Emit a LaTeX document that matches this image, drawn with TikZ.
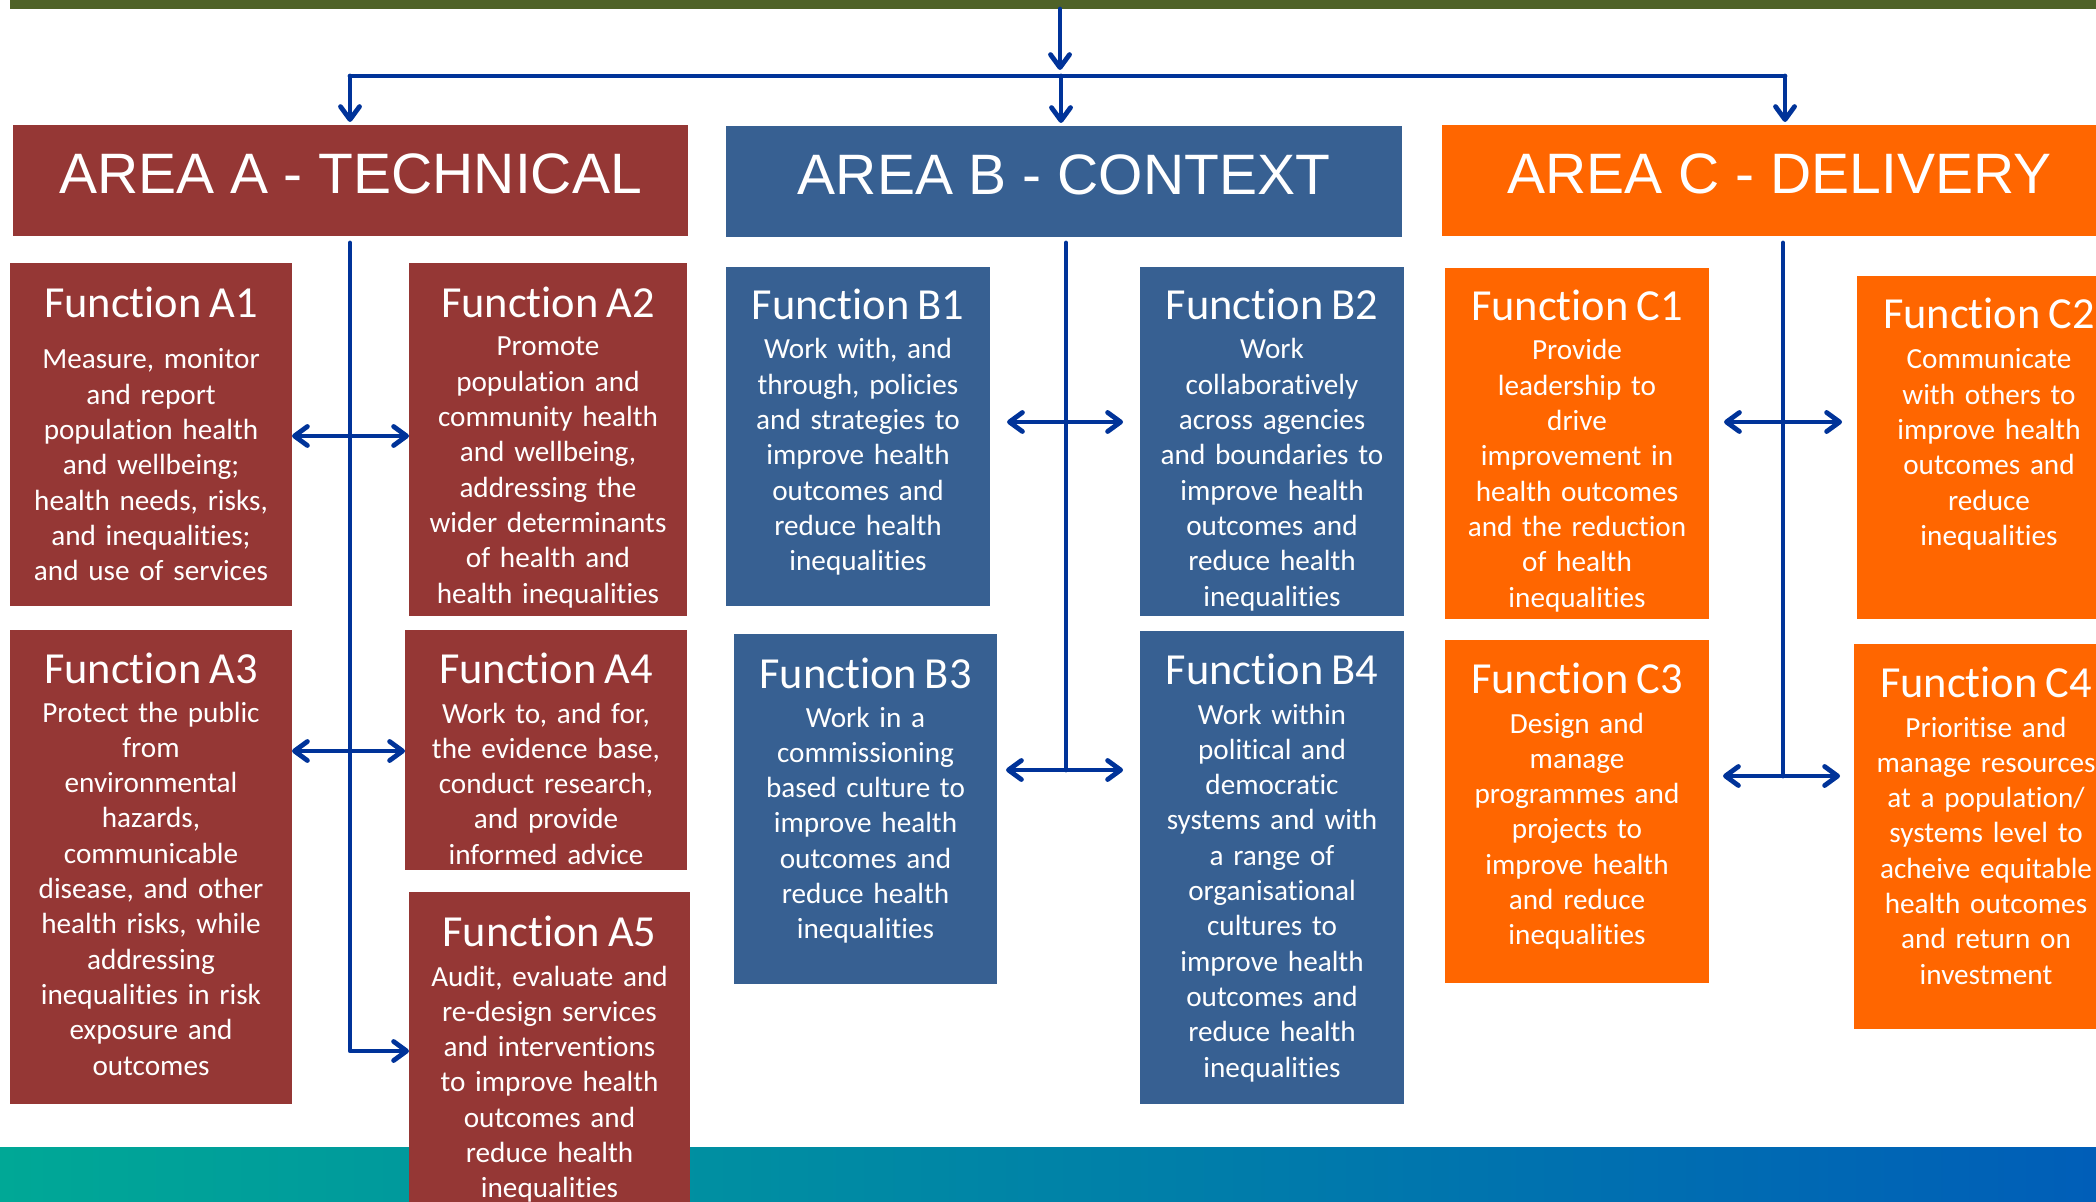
\documentclass[tikz,border=0pt]{standalone}
\usepackage{fontspec}
\setmainfont{Carlito}[Ligatures=NoCommon,WordSpace=0.8]
\newfontfamily\areafont{Liberation Sans}
\usetikzlibrary{arrows.meta,fit}
\definecolor{cA}{RGB}{149,55,53}
\definecolor{cB}{RGB}{55,96,146}
\definecolor{cC}{RGB}{255,102,0}
\definecolor{cG}{RGB}{79,98,40}
\definecolor{cL}{RGB}{0,51,153}
\definecolor{gL}{RGB}{0,168,150}
\definecolor{gR}{RGB}{0,94,184}
\tikzset{
  box/.style={inner sep=0pt, outer sep=0pt, draw=none},
  ttl/.style={text=white, anchor=base, inner sep=0pt, font=\fontsize{22.2}{26}\selectfont},
  bodytxt/.style={text=white, anchor=base, inner sep=0pt, align=center, text width=150pt, font=\fontsize{14.6}{17.65}\selectfont},
  areatxt/.style={text=white, anchor=base, inner sep=0pt, font=\areafont\fontsize{28.5}{34}\selectfont},
  conn/.style={draw=cL, line width=2.4pt, line cap=round, line join=round, >={Straight Barb[length=6.5pt,width=9.5pt,round]}},
}
% name, colour, corner1, corner2, title baseline, body baseline, body
\newcommand\FuncBox[7]{%
  \node[box,fill=#2,fit={(#3)(#4)}] (#1) {};
  \node[ttl] (#1t) at (#1.north |- 0,#5) {Function #1};
  \node[bodytxt] (#1b) at (#1.north |- 0,#6) {#7};
}
\begin{document}
\begin{tikzpicture}[x=0.5pt,y=-0.5pt]
\useasboundingbox (0,0) rectangle (2096,1202);
% bottom gradient band
\shade[left color=gL,right color=gR] (0,1147) rectangle (2096,1202);
% top bar
\node[box,fill=cG,fit={(10,0)(2096,9)}] (topbar) {};
% area headers
\node[box,fill=cA,fit={(13,125)(688,236)}] (areaA) {};
\node[box,fill=cB,fit={(726,126)(1402,237)}] (areaB) {};
\node[box,fill=cC,fit={(1442,125)(2117,236)}] (areaC) {};
\node[areatxt] (areaAt) at (areaA.north |- 0,194) {AREA A - TECHNICAL};
\node[areatxt] (areaBt) at (areaB.north |- 0,195) {AREA B - CONTEXT};
\node[areatxt] (areaCt) at (areaC.north |- 0,194) {AREA C - DELIVERY};

% function boxes
\FuncBox{A1}{cA}{10,263}{292,606}{318}{369}{Measure, monitor\\and report\\population health\\and wellbeing;\\health needs, risks,\\and inequalities;\\and use of services}
\FuncBox{A2}{cA}{409,263}{687,616}{318}{356}{Promote\\population and\\community health\\and wellbeing,\\addressing the\\wider determinants\\of health and\\health inequalities}
\FuncBox{A3}{cA}{10,630}{292,1104}{683}{722}{Protect the public\\from\\environmental\\hazards,\\communicable\\disease, and other\\health risks, while\\addressing\\inequalities in risk\\exposure and\\outcomes}
\FuncBox{A4}{cA}{405,630}{687,870}{683}{723}{Work to, and for,\\the evidence base,\\conduct research,\\and provide\\informed advice}
\FuncBox{A5}{cA}{409,892}{690,1215}{946}{986}{Audit, evaluate and\\re-design services\\and interventions\\to improve health\\outcomes and\\reduce health\\inequalities}
\FuncBox{B1}{cB}{726,267}{990,606}{320}{359}{Work with, and\\through, policies\\and strategies to\\improve health\\outcomes and\\reduce health\\inequalities}
\FuncBox{B2}{cB}{1140,267}{1404,616}{320}{359}{Work\\collaboratively\\across agencies\\and boundaries to\\improve health\\outcomes and\\reduce health\\inequalities}
\FuncBox{B3}{cB}{734,634}{997,984}{688}{727}{Work in a\\commissioning\\based culture to\\improve health\\outcomes and\\reduce health\\inequalities}
\FuncBox{B4}{cB}{1140,631}{1404,1104}{684}{724}{Work within\\political and\\democratic\\systems and with\\a range of\\organisational\\cultures to\\improve health\\outcomes and\\reduce health\\inequalities}
\FuncBox{C1}{cC}{1445,268}{1709,619}{321}{360}{Provide\\leadership to\\drive\\improvement in\\health outcomes\\and the reduction\\of health\\inequalities}
\FuncBox{C2}{cC}{1857,276}{2121,619}{329}{369}{Communicate\\with others to\\improve health\\outcomes and\\reduce\\inequalities}
\FuncBox{C3}{cC}{1445,640}{1709,983}{693}{733}{Design and\\manage\\programmes and\\projects to\\improve health\\and reduce\\inequalities}
\FuncBox{C4}{cC}{1854,644}{2118,1029}{697}{737}{Prioritise and\\manage resources\\at a population/\\systems level to\\acheive equitable\\health outcomes\\and return on\\investment}

% top distribution connectors
\coordinate (hubIn) at (1060,70);
\coordinate (hubL) at (350,76);
\coordinate (hubM) at (1061,76);
\coordinate (hubR) at (1785,76);
\draw[conn,->] (topbar.south -| hubIn) -- (hubIn);
\draw[conn] (hubL) -- (hubR);
\draw[conn,->,shorten >=1.5pt] (hubL) -- (areaA.north -| hubL);
\draw[conn,->,shorten >=1.5pt] (hubM) -- (areaB.north -| hubM);
\draw[conn,->,shorten >=1.5pt] (hubR) -- (areaC.north -| hubR);

% area A
\coordinate (vA) at (350,243);
\coordinate (vAend) at (350,1051);
\coordinate (rA1) at (350,436);
\coordinate (rA2) at (350,751);
\draw[conn,->] (vA) -- (vAend) -- (A5.west |- vAend);
\draw[conn,<->] (A1.east |- rA1) -- (A2.west |- rA1);
\draw[conn,<->] (A3.east |- rA2) -- (A4.west |- rA2);

% area B
\coordinate (vB) at (1066,243);
\coordinate (vBend) at (1066,770);
\coordinate (rB1) at (1066,422);
\draw[conn] (vB) -- (vBend);
\draw[conn,<->,shorten <=8.5pt,shorten >=8.5pt] (B1.east |- rB1) -- (B2.west |- rB1);
\draw[conn,<->,shorten <=4.5pt,shorten >=8.5pt] (B3.east |- vBend) -- (B4.west |- vBend);

% area C
\coordinate (vC) at (1783,243);
\coordinate (vCend) at (1783,776);
\coordinate (rC1) at (1783,422);
\draw[conn] (vC) -- (vCend);
\draw[conn,<->,shorten <=7.5pt,shorten >=7.5pt] (C1.east |- rC1) -- (C2.west |- rC1);
\draw[conn,<->,shorten <=7pt,shorten >=7pt] (C3.east |- vCend) -- (C4.west |- vCend);
\end{tikzpicture}
\end{document}
